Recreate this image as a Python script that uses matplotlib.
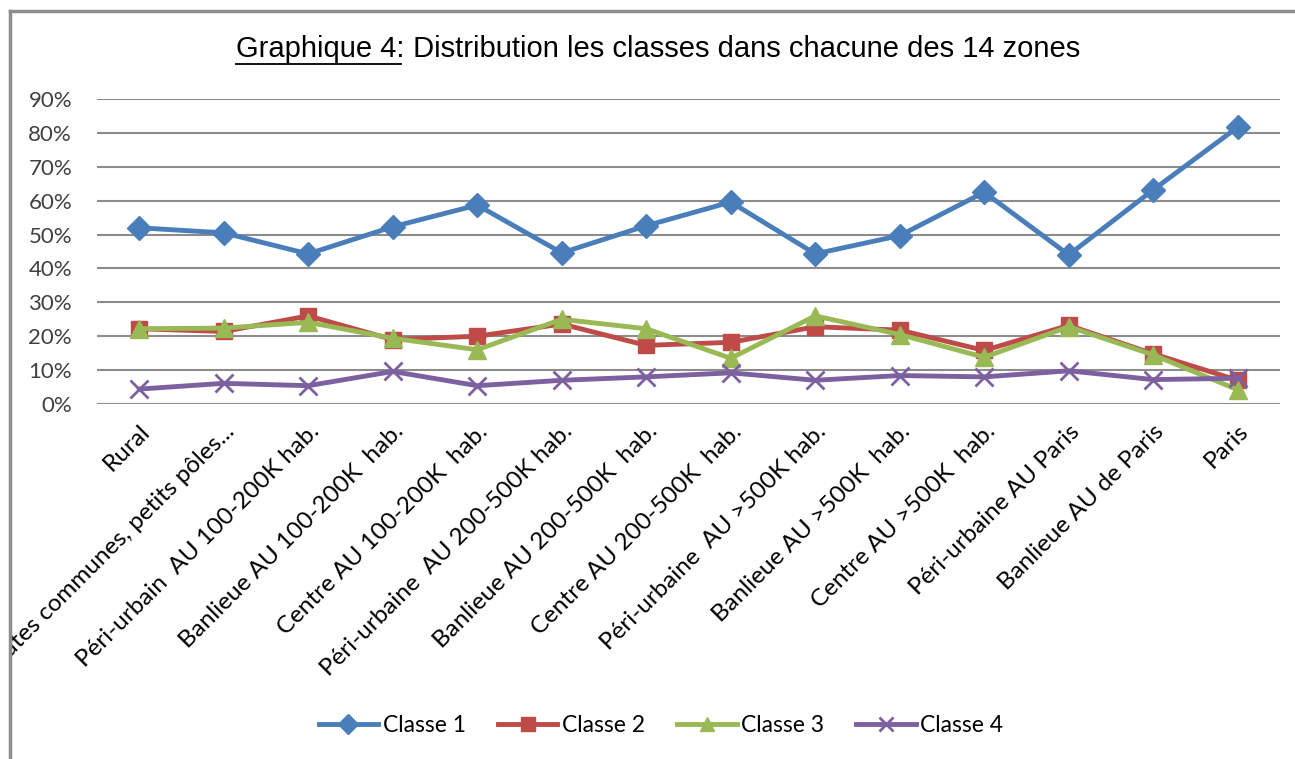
import matplotlib.pyplot as plt
from matplotlib.lines import Line2D
from matplotlib.transforms import Bbox, TransformedBbox
from matplotlib.ticker import PercentFormatter

# zones (axe x)
zones = ["Rural", "Toutes communes, petits pôles...", "Péri-urbain  AU 100-200K hab.",
         "Banlieue AU 100-200K  hab.", "Centre AU 100-200K  hab.", "Péri-urbaine  AU 200-500K hab.",
         "Banlieue AU 200-500K  hab.", "Centre AU 200-500K  hab.", "Péri-urbaine  AU >500K hab.",
         "Banlieue AU >500K  hab.", "Centre AU >500K  hab.", "Péri-urbaine AU Paris",
         "Banlieue AU de Paris", "Paris"]

# parts de chaque classe
classe1 = [0.520, 0.505, 0.443, 0.523, 0.587, 0.446, 0.526, 0.596, 0.443, 0.497, 0.625, 0.440, 0.632, 0.817]
classe2 = [0.222, 0.214, 0.260, 0.190, 0.200, 0.236, 0.173, 0.182, 0.228, 0.218, 0.158, 0.232, 0.148, 0.070]
classe3 = [0.222, 0.224, 0.241, 0.194, 0.160, 0.250, 0.222, 0.135, 0.260, 0.205, 0.138, 0.228, 0.145, 0.042]
classe4 = [0.044, 0.061, 0.054, 0.096, 0.054, 0.070, 0.080, 0.092, 0.070, 0.084, 0.080, 0.098, 0.072, 0.076]

series = [("Classe 1", classe1, "#4A7EBB", "D", 12.5),
          ("Classe 2", classe2, "#BE4B48", "s", 11.5),
          ("Classe 3", classe3, "#98B954", "^", 12.5),
          ("Classe 4", classe4, "#7D60A0", "x", 12.5)]

police = ["Lato", "DejaVu Sans"]
gris = "#404040"

fig = plt.figure(figsize=(12.95, 7.59), dpi=100)
ax = fig.add_axes([97 / 1295, 1 - 404 / 759, (1280 - 97) / 1295, 305 / 759])

x = range(len(zones))
for nom, vals, coul, mk, ms in series:
    ax.plot(x, vals, color=coul, lw=3.5, marker=mk, ms=ms, mew=2 if mk == "x" else 1,
            mec=coul, mfc=coul, label=nom, zorder=3, clip_on=False)

ax.set_ylim(0, 0.9)
ax.set_xlim(-0.5, len(zones) - 0.5)
ax.set_yticks([i / 10 for i in range(10)])
ax.yaxis.set_major_formatter(PercentFormatter(1, decimals=0))
ax.grid(axis="y", color="#8C8C8C", lw=1.5, zorder=0)
for s in ax.spines.values():
    s.set_visible(False)
ax.tick_params(length=0)
ax.tick_params(axis="y", pad=18, labelsize=16, labelcolor=gris)
ax.set_xticks(list(x))
ax.set_xticklabels(zones, rotation=45, ha="right", rotation_mode="anchor", fontsize=17.5,
                   family=police, color="black")
ax.tick_params(axis="x", pad=12)
for t in ax.get_yticklabels():
    t.set_family(police)

# bordure du graphique (coin gauche / haut)
fig.add_artist(Line2D([10 / 1295, 10 / 1295], [0, 1 - 11 / 759], color="#8E8E8E", lw=2.5))
fig.add_artist(Line2D([10 / 1295, 1], [1 - 11 / 759, 1 - 11 / 759], color="#8E8E8E", lw=2.5))

clip = TransformedBbox(Bbox([[11 / 1295, 0], [1, 1]]), fig.transFigure)
for t in ax.get_xticklabels():
    t.set_clip_box(clip)
    t.set_clip_on(True)

# titre, premier morceau souligné
r = fig.canvas.get_renderer()
t1 = fig.text(0, 1 - 49 / 759, "Graphique 4:", fontsize=21, family="Liberation Sans", va="center")
t2 = fig.text(0, 1 - 49 / 759, " Distribution les classes dans chacune des 14 zones", fontsize=21,
              family="Liberation Sans", va="center")
w1 = t1.get_window_extent(r).width
w2 = t2.get_window_extent(r).width
x0 = 658 - (w1 + w2) / 2
t1.set_x(x0 / 1295)
t2.set_x((x0 + w1) / 1295)
yl = 1 - 64 / 759
fig.add_artist(Line2D([x0 / 1295, (x0 + w1 - 4) / 1295], [yl, yl], color="black", lw=1.3))

leg = fig.legend(loc="center", bbox_to_anchor=(661 / 1295, 1 - 726 / 759), ncol=4, frameon=False,
                 prop={"family": police, "size": 16.5}, handlelength=2.6, handletextpad=0.2,
                 columnspacing=1.4)
for h in leg.legend_handles:
    h.set_markersize(10)

fig.savefig("out.png", dpi=100)
